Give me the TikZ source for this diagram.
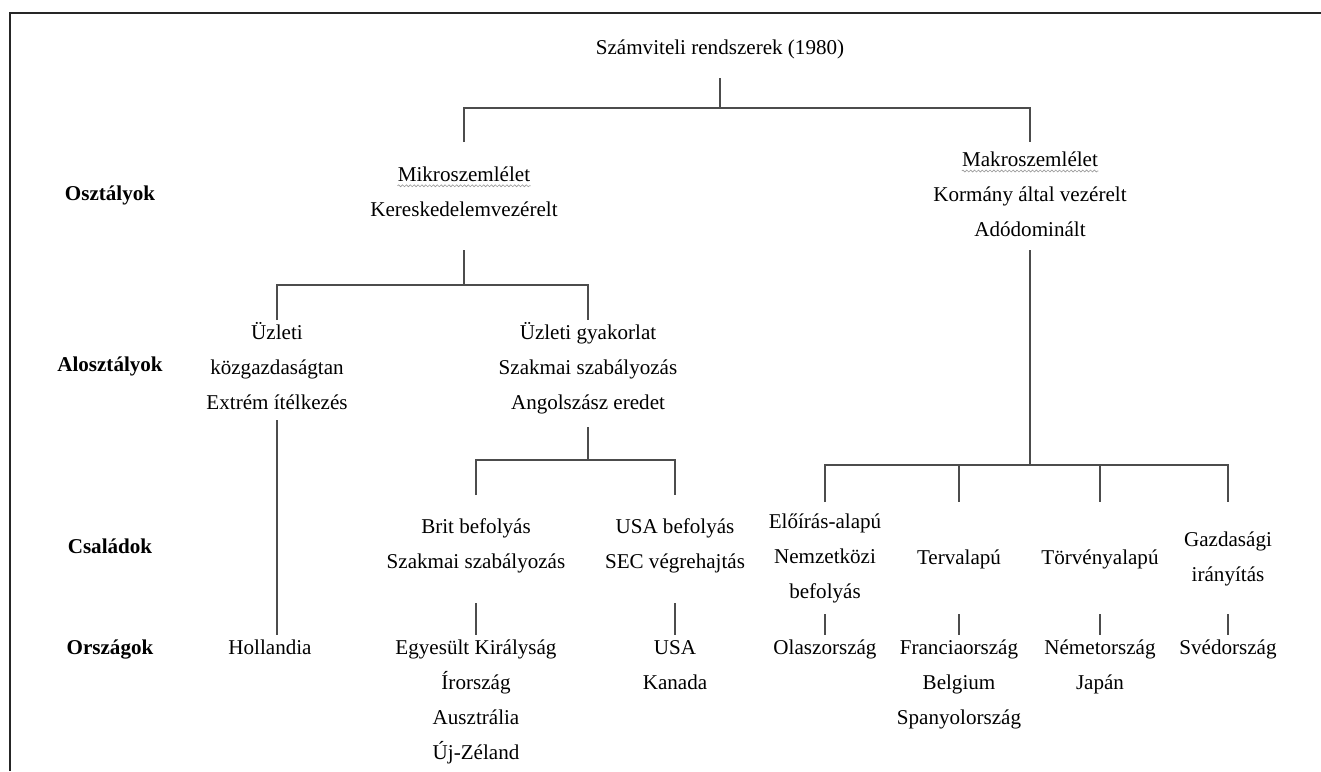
\documentclass[tikz,border=0pt]{standalone}
\usepackage{fontspec}
\setmainfont{Liberation Serif}
\usetikzlibrary{decorations.pathmorphing}
% spell-check style wave under a word
\newcommand\spellwave[1]{\tikz[baseline=(spw.base)]{%
  \node[inner sep=0pt] (spw) {#1};
  \draw[black!40, line width=0.35pt, decorate,
    decoration={snake, amplitude=0.55pt, segment length=2.2pt}]
    ([yshift=-2.6pt]spw.base -| spw.west) -- ([yshift=-2.6pt]spw.base -| spw.east);}}
\tikzset{
  % tree entries (placed by the baseline of their last line)
  item/.style={align=center, inner sep=0pt, anchor=base,
    font=\fontsize{12}{19.8}\selectfont},
  % row titles on the left
  rowlabel/.style={item, font=\fontsize{12}{19.8}\selectfont\bfseries},
  % tree lines
  conn/.style={draw=black!70, line width=0.75pt},
  % page frame
  frame/.style={draw=black!85, line width=0.8pt},
}

\begin{document}
\begin{tikzpicture}[x=0.02cm, y=-0.02cm]
  \useasboundingbox (0,0) rectangle (1321,771);
  \draw[frame] (10,771) -- (10,13) -- (1321,13);

  % row titles
  \node[rowlabel] (osz) at (110,200) {Osztályok};
  \node[rowlabel] (alo) at (110,371) {Alosztályok};
  \node[rowlabel] (csa) at (110,553) {Családok};
  \node[rowlabel] (orsz) at (110,654) {Országok};

  % classes
  \node[item] (root) at (720,54) {Számviteli rendszerek (1980)};
  \node[item] (mikro) at (464,216) {\spellwave{Mikroszemlélet}\\Kereskedelemvezérelt};
  \node[item] (makro) at (1030,236) {\spellwave{Makroszemlélet}\\Kormány által vezérelt\\Adódominált};

  % subclasses
  \node[item] (uzgazd) at (277,409) {Üzleti\\közgazdaságtan\\Extrém ítélkezés};
  \node[item] (uzgyak) at (588,409) {Üzleti gyakorlat\\Szakmai szabályozás\\Angolszász eredet};

  % families
  \node[item] (brit) at (476,568) {Brit befolyás\\Szakmai szabályozás};
  \node[item] (usa) at (675,568) {USA befolyás\\SEC végrehajtás};
  \node[item] (eloir) at (825,598) {Előírás-alapú\\Nemzetközi\\befolyás};
  \node[item] (terv) at (959,564) {Tervalapú};
  \node[item] (torv) at (1100,564) {Törvényalapú};
  \node[item] (gazd) at (1228,581) {Gazdasági\\irányítás};

  % countries
  \node[item] (hol) at (270,654) {Hollandia};
  \node[item] (uk) at (476,759) {Egyesült Királyság\\Írország\\Ausztrália\\Új-Zéland};
  \node[item] (usac) at (675,689) {USA\\Kanada};
  \node[item] (ola) at (825,654) {Olaszország};
  \node[item] (fra) at (959,724) {Franciaország\\Belgium\\Spanyolország};
  \node[item] (nem) at (1100,689) {Németország\\Japán};
  \node[item] (sve) at (1228,654) {Svédország};

  % line levels
  \coordinate (lv0a) at (0,78);
  \coordinate (lv0b) at (0,108);
  \coordinate (lv0c) at (0,142);
  \coordinate (lv1a) at (0,250);
  \coordinate (lv1b) at (0,285);
  \coordinate (lv1c) at (0,320);
  \coordinate (lv2a) at (0,427);
  \coordinate (lv2b) at (0,460);
  \coordinate (lv2c) at (0,495);
  \coordinate (lv2d) at (0,465);
  \coordinate (lv2e) at (0,502);
  \coordinate (lv3a) at (0,603);
  \coordinate (lv3d) at (0,614);
  \coordinate (lv3b) at (0,635);
  \coordinate (lv3c) at (0,420);

  \draw[conn] (root |- lv0a) -- (root |- lv0b);
  \draw[conn] (mikro |- lv0c) -- (mikro |- lv0b) -- (makro |- lv0b) -- (makro |- lv0c);

  \draw[conn] (mikro |- lv1a) -- (mikro |- lv1b);
  \draw[conn] (uzgazd |- lv1c) -- (uzgazd |- lv1b) -- (uzgyak |- lv1b) -- (uzgyak |- lv1c);

  \draw[conn] (uzgyak |- lv2a) -- (uzgyak |- lv2b);
  \draw[conn] (brit |- lv2c) -- (brit |- lv2b) -- (usa |- lv2b) -- (usa |- lv2c);

  \draw[conn] (makro |- lv1a) -- (makro |- lv2d);
  \draw[conn] (eloir |- lv2e) -- (eloir |- lv2d) -- (gazd |- lv2d) -- (gazd |- lv2e);
  \draw[conn] (terv |- lv2d) -- (terv |- lv2e);
  \draw[conn] (torv |- lv2d) -- (torv |- lv2e);

  \draw[conn] (uzgazd |- lv3c) -- (uzgazd |- lv3b);
  \foreach \f in {brit, usa}
    \draw[conn] (\f |- lv3a) -- (\f |- lv3b);
  \foreach \f in {eloir, terv, torv, gazd}
    \draw[conn] (\f |- lv3d) -- (\f |- lv3b);
\end{tikzpicture}
\end{document}
